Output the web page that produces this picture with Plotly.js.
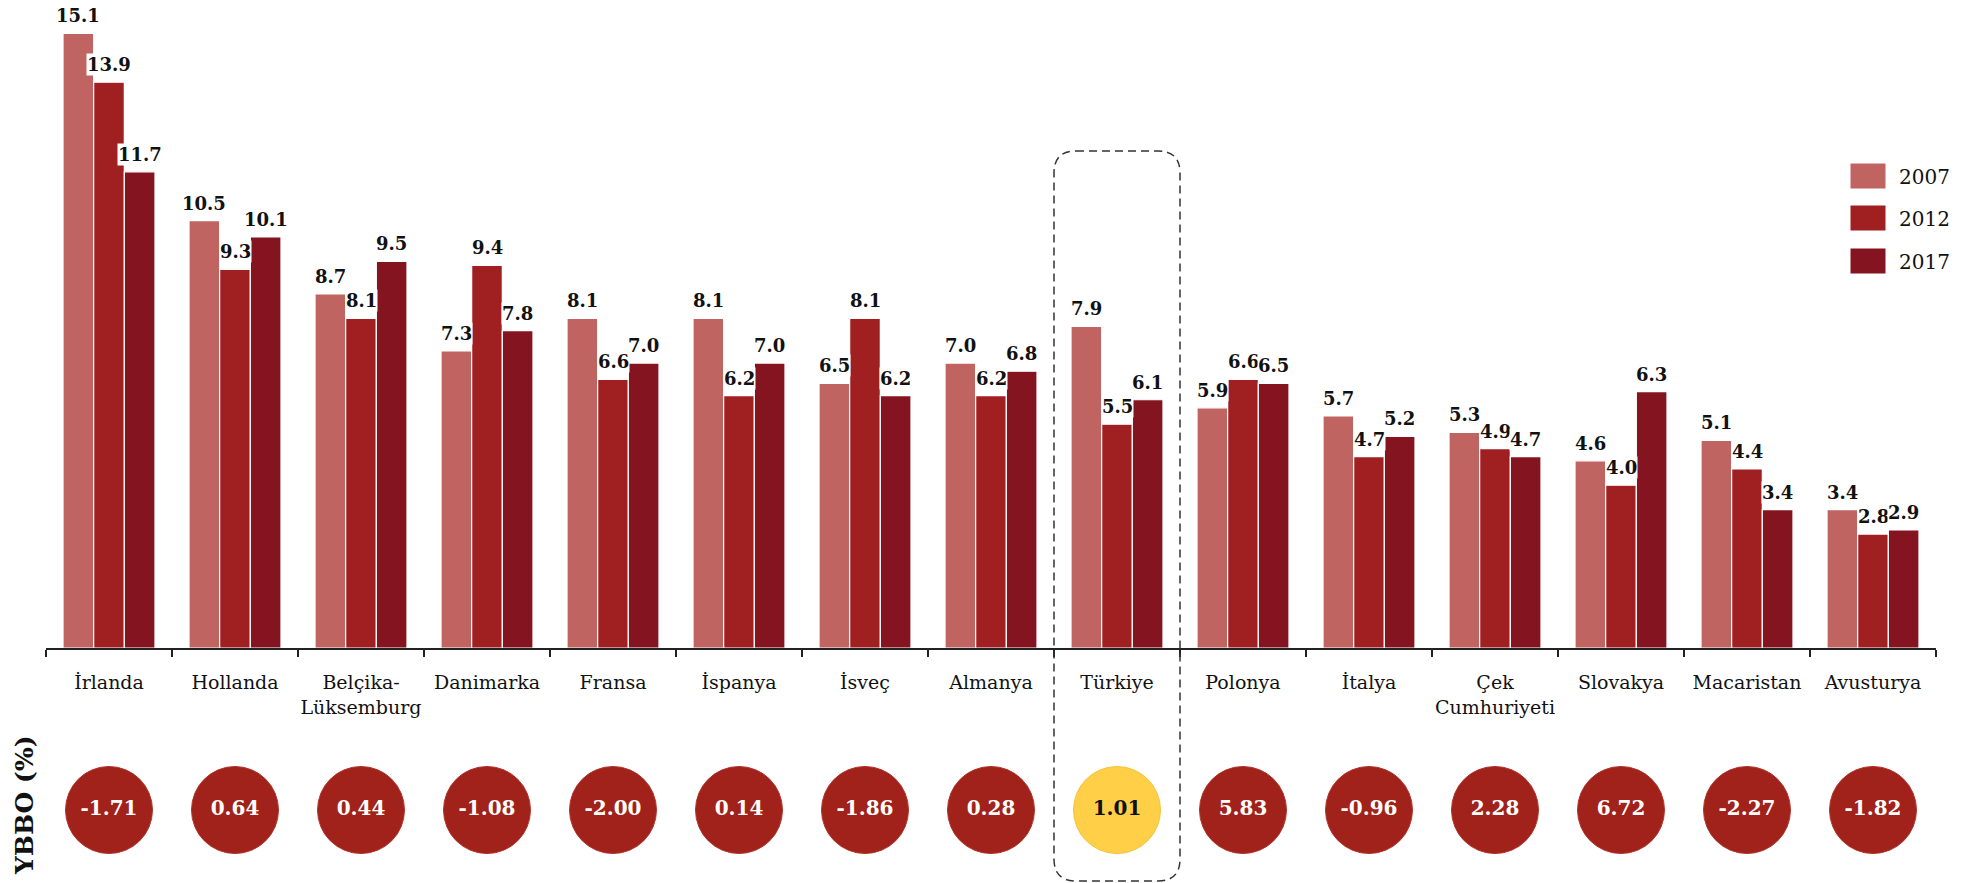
<!DOCTYPE html>
<html>
<head>
<meta charset="utf-8">
<script src="https://cdn.plot.ly/plotly-3.0.1.min.js"></script>
<style>
html,body{margin:0;padding:0;background:#fff;}
#chart{width:1977px;height:883px;}
</style>
</head>
<body>
<div id="chart"></div>
<script>
// ---- data ----
const categories = ["İrlanda","Hollanda","Belçika-<br>Lüksemburg","Danimarka","Fransa","İspanya","İsveç","Almanya","Türkiye","Polonya","İtalya","Çek<br>Cumhuriyeti","Slovakya","Macaristan","Avusturya"];
const seriesNames = ["2007","2012","2017"];
const values2007 = [15.1,10.5,8.7,7.3,8.1,8.1,6.5,7.0,7.9,5.9,5.7,5.3,4.6,5.1,3.4];
const values2012 = [13.9,9.3,8.1,9.4,6.6,6.2,8.1,6.2,5.5,6.6,4.7,4.9,4.0,4.4,2.8];
const values2017 = [11.7,10.1,9.5,7.8,7.0,7.0,6.2,6.8,6.1,6.5,5.2,4.7,6.3,3.4,2.9];
const ybboValues = [-1.71,0.64,0.44,-1.08,-2.00,0.14,-1.86,0.28,1.01,5.83,-0.96,2.28,6.72,-2.27,-1.82];
const highlightCategory = "Türkiye";
const ybboTitle = "YBBO (%)";

// ---- style ----
const W = 1977, H = 883;
const M = {l:46, r:41, t:20, b:0};
const plotW = W - M.l - M.r, plotH = H - M.t - M.b;
const px2x = px => (px - M.l) / plotW;
const py2y = py => (H - M.b - py) / plotH;
const seriesColors = ["#c06462","#a01f20","#84141f"];
const circleColor = "#a0221a";
const highlightColor = "#ffcf48";
const serif = "DejaVu Serif, Liberation Serif, serif";
const axisBottomPx = 648, pxPerUnit = 40.7;
const yMax = (axisBottomPx - M.t) / pxPerUnit;
const barGap = 0.27;
const N = categories.length;
const slotPx = plotW / N;
const barPx = slotPx * (1 - barGap) / 3;

const seriesValues = [values2007, values2012, values2017];

const traces = seriesValues.map((vals, i) => ({
  type: "bar",
  name: seriesNames[i],
  x: categories,
  y: vals,
  marker: {color: seriesColors[i], line: {color: "#ffffff", width: 1.2}},
  hoverinfo: "x+y+name",
  showlegend: false
}));

const isHighlight = categories.map(c => c === highlightCategory);
traces.push({
  type: "scatter",
  mode: "markers+text",
  x: categories,
  y: categories.map(() => 0.5),
  yaxis: "y2",
  text: ybboValues.map(v => v.toFixed(2)),
  textposition: "middle center",
  textfont: {family: serif, size: 20, weight: "bold", color: isHighlight.map(h => h ? "#111111" : "#ffffff")},
  marker: {size: 87, color: isHighlight.map(h => h ? highlightColor : circleColor), line: {width: 1, color: isHighlight.map(h => h ? "#f5c23a" : "#b0342b")}},
  cliponaxis: false,
  showlegend: false,
  hoverinfo: "x+text"
});

// value labels as annotations (white background like the original)
const annotations = [];
seriesValues.forEach((vals, s) => {
  vals.forEach((v, i) => {
    annotations.push({
      x: categories[i], y: v, xref: "x", yref: "y",
      xshift: (s - 1) * barPx,
      yshift: 6,
      yanchor: "bottom", xanchor: "center",
      text: v.toFixed(1), showarrow: false,
      font: {family: serif, size: 18, weight: "bold", color: "#111111"},
      bgcolor: "#ffffff", borderpad: 0
    });
  });
});

// side title
annotations.push({
  xref: "paper", yref: "paper", x: px2x(24), y: py2y(806),
  text: "<b>" + ybboTitle + "</b>", showarrow: false, textangle: -90,
  font: {family: serif, size: 25, color: "#111111"},
  xanchor: "center", yanchor: "middle"
});

// custom legend
const shapes = [];
const legRows = [176, 218, 261];
seriesNames.forEach((n, i) => {
  shapes.push({
    type: "rect", xref: "paper", yref: "paper",
    x0: px2x(1850), x1: px2x(1886), y0: py2y(legRows[i] + 13), y1: py2y(legRows[i] - 13),
    fillcolor: seriesColors[i], line: {width: 1, color: "#ffffff"}
  });
  annotations.push({
    xref: "paper", yref: "paper", x: px2x(1897), y: py2y(legRows[i] + 1),
    text: n, showarrow: false, xanchor: "left", yanchor: "middle",
    font: {family: serif, size: 20, color: "#111111"}
  });
});

// dashed rounded box around highlighted category
const hi = categories.indexOf(highlightCategory);
const bl = hi / N, br = (hi + 1) / N;
const bt = py2y(151), bb = py2y(881);
const rx = 22 / plotW, ry = 22 / plotH;
const path = `M ${bl+rx},${bt} L ${br-rx},${bt} Q ${br},${bt} ${br},${bt-ry} L ${br},${bb+ry} Q ${br},${bb} ${br-rx},${bb} L ${bl+rx},${bb} Q ${bl},${bb} ${bl},${bb+ry} L ${bl},${bt-ry} Q ${bl},${bt} ${bl+rx},${bt} Z`;
shapes.push({type: "path", xref: "paper", yref: "paper", path: path,
  line: {color: "#333333", width: 1.5, dash: "8px,5px"}, fillcolor: "rgba(0,0,0,0)", layer: "above"});

const layout = {
  width: W, height: H,
  margin: M,
  paper_bgcolor: "#ffffff", plot_bgcolor: "rgba(0,0,0,0)",
  barmode: "group", bargap: barGap, bargroupgap: 0,
  showlegend: false,
  font: {family: serif, color: "#111111"},
  xaxis: {
    type: "category",
    range: [-0.5, N - 0.5], autorange: false,
    automargin: false,
    tickangle: 0,
    showline: true, linecolor: "#222222", linewidth: 1.5,
    ticks: "outside", tickson: "boundaries", ticklen: 7, tickcolor: "#222222", tickwidth: 1.2,
    tickfont: {family: serif, size: 19, color: "#111111"},
    ticklabelstandoff: 17,
    showgrid: false, zeroline: false, fixedrange: true
  },
  yaxis: {
    domain: [py2y(axisBottomPx), py2y(M.t)],
    range: [0, yMax], autorange: false,
    visible: false, showgrid: false, zeroline: false, fixedrange: true
  },
  yaxis2: {
    domain: [py2y(860), py2y(760)],
    range: [0, 1], anchor: "x", autorange: false,
    visible: false, showgrid: false, zeroline: false, fixedrange: true
  },
  annotations: annotations,
  shapes: shapes
};

Plotly.newPlot("chart", traces, layout, {displayModeBar: false, staticPlot: true});
</script>
</body>
</html>
